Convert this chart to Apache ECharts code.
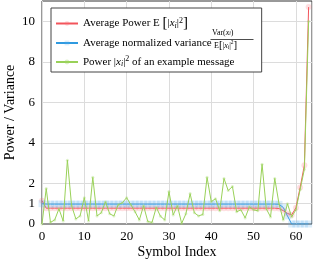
<!DOCTYPE html>
<html><head><meta charset="utf-8">
<script src="https://cdn.jsdelivr.net/npm/echarts@6/dist/echarts.min.js"></script>
<style>html,body{margin:0;padding:0;background:#fff}#c{width:313px;height:265px}</style>
</head><body><div id="c"></div>
<script>
// Symbol indices 0..63
const symbolIndex = [0,1,2,3,4,5,6,7,8,9,10,11,12,13,14,15,16,17,18,19,20,21,22,23,24,25,26,27,28,29,30,31,
  32,33,34,35,36,37,38,39,40,41,42,43,44,45,46,47,48,49,50,51,52,53,54,55,56,57,58,59,60,61,62,63];
const avgPower = [1.15,
  0.78,0.78,0.78,0.78,0.78,0.78,0.78,0.78,0.78,0.78,0.78,0.78,0.78,0.78,0.78,0.78,0.78,0.78,0.78,0.78,
  0.78,0.78,0.78,0.78,0.78,0.78,0.78,0.78,0.78,0.78,0.78,0.78,0.78,0.78,0.78,0.78,0.78,0.78,0.78,0.78,
  0.78,0.78,0.78,0.78,0.78,0.78,0.78,0.78,0.78,0.78,0.78,0.78,0.78,0.78,0.78,
  0.76,0.66,0.52,0.45,0.8,1.8,2.9,10.7];
const avgNormVar = [1.0,
  0.98,0.98,0.98,0.98,0.98,0.98,0.98,0.98,0.98,0.98,0.98,0.98,0.98,0.98,0.98,0.98,0.98,0.98,0.98,0.98,
  0.98,0.98,0.98,0.98,0.98,0.98,0.98,0.98,0.98,0.98,0.98,0.98,0.98,0.98,0.98,0.98,0.98,0.98,0.98,0.98,
  0.98,0.98,0.98,0.98,0.98,0.98,0.98,0.98,0.98,0.98,0.98,0.98,0.98,0.98,0.98,
  0.97,0.82,0.4,0,0,0,0,0];
const examplePower = [0,1.75,0.08,0.2,0.75,0.15,3.15,0.9,0.25,0.4,
  1.3,0.15,2.3,0.4,0.55,1.1,0.5,0.4,0.95,1.05,
  1.3,0.95,0.6,0.2,0.9,0.12,0.08,0.82,0.38,0.2,
  1.6,0.45,0.9,0.03,0.5,1.5,0.55,0.4,0.47,2.3,
  1.1,1.25,0.65,2.25,1.65,1.85,0.6,0.7,0.3,0.85,
  0.7,0.65,2.95,0.75,0.35,2.25,1.0,0.2,1.0,0.35,
  0.7,1.7,2.7,10.0];
const yTickLabels = [0,1,2,4,6,8,10];
const yGridLines = [1,2,4,6,8,10];
const xTickInterval = 10;

const SERIF = 'Liberation Serif';
const pair = arr => symbolIndex.map((x,i)=>[x, arr[i]]);

const rich = {
  t:{fontFamily:SERIF,fontSize:11,color:'#000',lineHeight:14},
  x:{fontFamily:SERIF,fontSize:11,fontStyle:'italic',color:'#000',lineHeight:14},
  s:{fontFamily:SERIF,fontSize:8,fontStyle:'italic',color:'#000',lineHeight:14,verticalAlign:'bottom',padding:[0,0,1,0]},
  p:{fontFamily:SERIF,fontSize:8,color:'#000',lineHeight:14,verticalAlign:'top'},
  b:{fontFamily:SERIF,fontSize:15,color:'#000',lineHeight:14},
  f:{fontFamily:SERIF,fontSize:11,width:44,height:14,lineHeight:14}
};
const legendText = {
  'Average Power': '{t|Average Power E }{b|[}{t||}{x|x}{s|i}{t||}{p|2}{b|]}',
  'Average normalized variance': '{t|Average normalized variance}{f| }',
  'Power of an example message': '{t|Power |}{x|x}{s|i}{t||}{p|2}{t| of an example message}'
};

const chart = echarts.init(document.getElementById('c'), null, {renderer:'canvas'});
const fracRich = {
  t:{fontFamily:SERIF,fontSize:8,color:'#000'},
  x:{fontFamily:SERIF,fontSize:8,fontStyle:'italic',color:'#000'},
  s:{fontFamily:SERIF,fontSize:5.5,fontStyle:'italic',color:'#000',verticalAlign:'bottom'},
  p:{fontFamily:SERIF,fontSize:5.5,color:'#000',verticalAlign:'top'},
  b:{fontFamily:SERIF,fontSize:11,color:'#000'}
};
chart.setOption({
  animation:false,
  backgroundColor:'#fff',
  grid:{left:42,width:270,top:1,bottom:41,show:true,borderColor:'#333',borderWidth:1,
    backgroundColor:'transparent',containLabel:false,outerBoundsMode:'none'},
  xAxis:{type:'value',min:0,max:63.8,interval:xTickInterval,
    axisLine:{show:false},axisTick:{show:false},
    axisLabel:{fontFamily:SERIF,fontSize:13,color:'#000',margin:6,showMaxLabel:false},
    splitLine:{show:true,lineStyle:{color:'#dcdcdc',width:1}},
    name:'Symbol Index',nameLocation:'middle',nameGap:21,nameMoveOverlap:false,
    nameTextStyle:{fontFamily:SERIF,fontSize:14,color:'#000'}},
  yAxis:{type:'value',min:0,max:11,interval:1,
    axisLine:{show:false},axisTick:{show:false},
    axisLabel:{fontFamily:SERIF,fontSize:13,color:'#000',margin:7,
      formatter:v=>yTickLabels.includes(v)?String(v):''},
    splitLine:{show:false},
    name:'Power / Variance',nameLocation:'middle',nameGap:25,nameMoveOverlap:false,
    nameTextStyle:{fontFamily:SERIF,fontSize:14,color:'#000'}},
  legend:{
    orient:'vertical',left:51,top:8,z:50,
    padding:[8,6,3,4],itemGap:5,itemWidth:22,itemHeight:6,
    backgroundColor:'#fff',borderColor:'#444',borderWidth:1,borderRadius:0,
    data:['Average Power','Average normalized variance','Power of an example message'],
    formatter:name=>legendText[name],
    textStyle:{rich:rich,fontFamily:SERIF,fontSize:11,color:'#000'}
  },
  graphic:[
    {type:'text',left:212,top:29,z:100,style:{text:'{t|Var(}{x|x}{s|i}{t|)}',rich:fracRich}},
    {type:'line',z:100,shape:{x1:210.5,y1:39.5,x2:253.5,y2:39.5},style:{stroke:'#000',lineWidth:0.7}},
    {type:'text',left:214,top:40,z:100,style:{text:'{t|E}{b|[}{t||}{x|x}{s|i}{t||}{p|2}{b|]}',rich:fracRich}}
  ],
  series:[
    {type:'line',name:'grid',data:[],silent:true,z:1,
      markLine:{silent:true,symbol:'none',label:{show:false},z:1,
        lineStyle:{color:'#dcdcdc',type:'solid',width:1},
        data:yGridLines.map(v=>({yAxis:v}))}},
    {type:'line',name:'Average Power',data:pair(avgPower),z:3,
      lineStyle:{color:'#f2545b',width:1},
      symbol:'circle',symbolSize:6,showAllSymbol:true,
      itemStyle:{color:'rgba(250,110,120,0.22)',borderWidth:0},
      color:'#f2545b'},
    {type:'line',name:'Average normalized variance',data:pair(avgNormVar),z:3,
      lineStyle:{color:'#2f9ae0',width:1},
      symbol:'rect',symbolSize:7,showAllSymbol:true,
      itemStyle:{color:'rgba(90,175,235,0.22)',borderWidth:0},
      color:'#2f9ae0'},
    {type:'line',name:'Power of an example message',data:pair(examplePower),z:4,
      lineStyle:{color:'#99d158',width:1},
      symbol:'circle',symbolSize:3,showAllSymbol:true,
      itemStyle:{color:'rgba(160,215,100,0.35)',borderWidth:0},
      color:'#99d158'}
  ]
});
</script></body></html>
